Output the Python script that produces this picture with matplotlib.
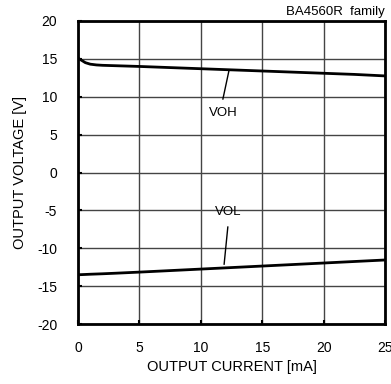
import numpy as np
import matplotlib
matplotlib.use("Agg")
import matplotlib.pyplot as plt

plt.rcParams['font.family'] = ['Liberation Sans', 'DejaVu Sans']
plt.rcParams['axes.unicode_minus'] = False

# Output current [mA]
current = [0, 0.3, 0.6, 1.0, 1.5, 2, 3, 5, 7.5, 10, 12.5, 15, 17.5, 20, 22.5, 25]
# VOH [V]
voh = [15.1, 14.8, 14.5, 14.3, 14.2, 14.15, 14.1, 14.0, 13.85, 13.7, 13.55, 13.4, 13.25, 13.1, 12.95, 12.75]
# VOL [V]
vol = [-13.5, -13.48, -13.46, -13.43, -13.4, -13.37, -13.3, -13.15, -12.95, -12.75, -12.55, -12.35, -12.15, -11.95, -11.75, -11.55]

xticks = [0, 5, 10, 15, 20, 25]
yticks = [-20, -15, -10, -5, 0, 5, 10, 15, 20]

fig = plt.figure(figsize=(3.91, 3.84), dpi=100)
ax = fig.add_axes([78 / 391, 1 - 324 / 384, 307 / 391, 303 / 384])

ax.plot(current, voh, color='black', lw=2, zorder=3)
ax.plot(current, vol, color='black', lw=2, zorder=3)

ax.set_xlim(0, 25)
ax.set_ylim(-20, 20)
ax.set_xticks(xticks)
ax.set_yticks(yticks)
ax.grid(True, color='#444444', lw=1)
ax.tick_params(direction='in', length=3, width=1.5, labelsize=10, pad=12)
ax.tick_params(axis='y', pad=15)
for s in ax.spines.values():
    s.set_linewidth(2)

ax.set_xlabel("OUTPUT CURRENT [mA]", fontsize=10.5, labelpad=4)
ax.set_ylabel("OUTPUT VOLTAGE [V]", fontsize=10.5, labelpad=7)

ax.plot([12.3, 11.8], [13.5, 9.7], color='black', lw=1)
ax.text(11.8, 7.8, "VOH", fontsize=9.5, ha='center', va='center')
ax.plot([12.2, 11.9], [-7.2, -12.1], color='black', lw=1)
ax.text(12.2, -5.2, "VOL", fontsize=9.5, ha='center', va='center')
ax.text(25, 20.4, "BA4560R  family", fontsize=9.5, ha='right', va='bottom')

fig.savefig("out.png", dpi=100)
